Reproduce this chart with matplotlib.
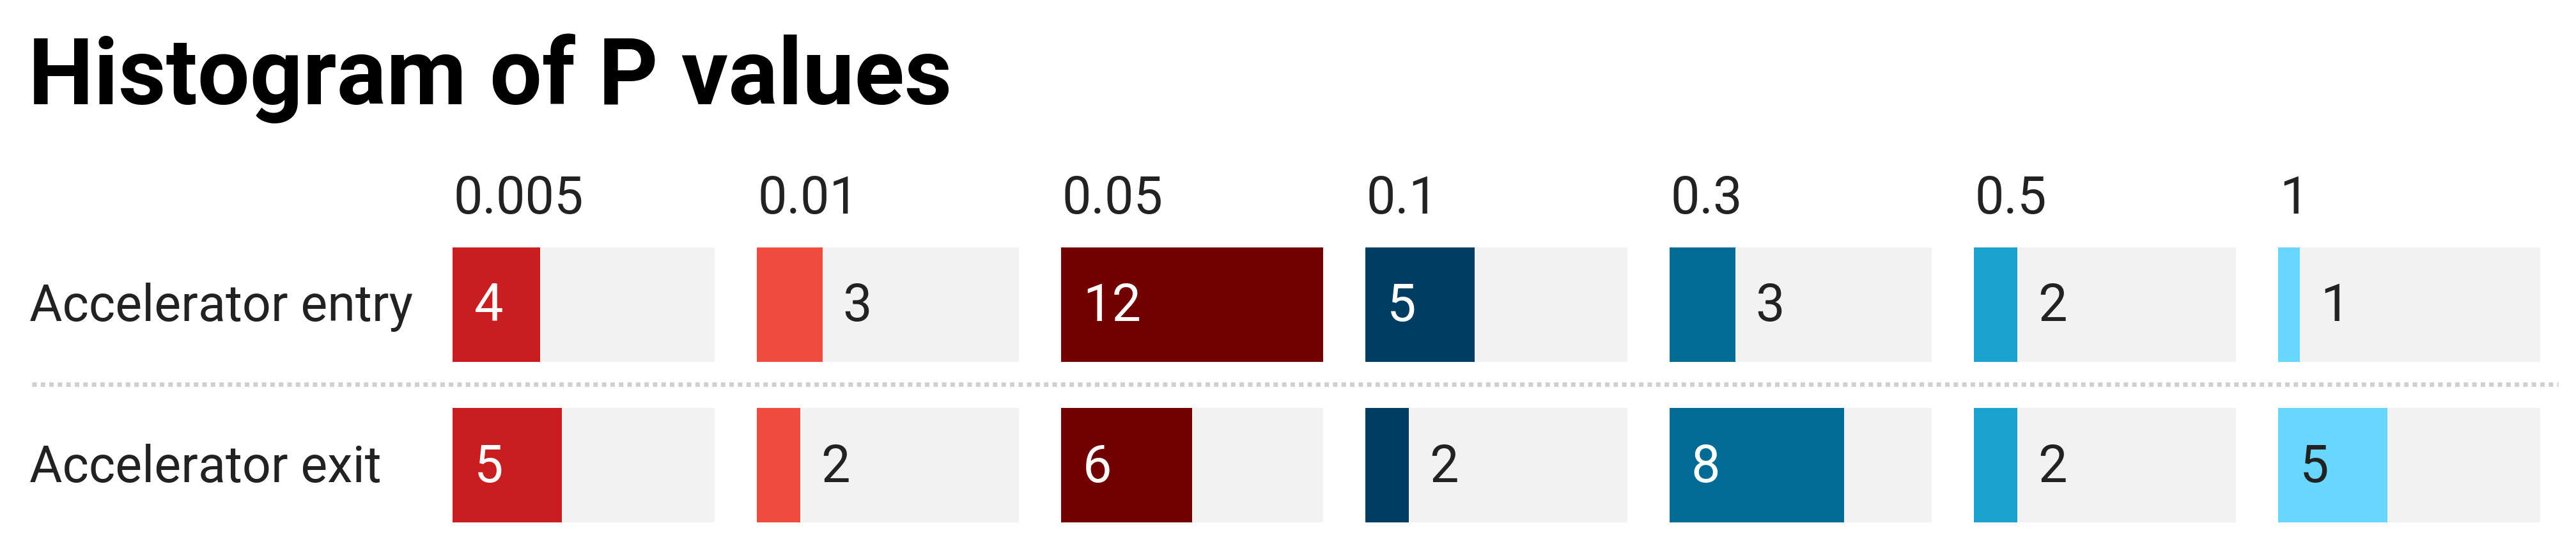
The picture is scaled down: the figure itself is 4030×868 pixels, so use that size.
import matplotlib
matplotlib.use('Agg')
import matplotlib.pyplot as plt
from matplotlib.lines import Line2D

# data
bins = ['0.005', '0.01', '0.05', '0.1', '0.3', '0.5', '1']
rows = ['Accelerator entry', 'Accelerator exit']
entry = [4, 3, 12, 5, 3, 2, 1]
exit_ = [5, 2, 6, 2, 8, 2, 5]
bin_colors = ['#c91d1f', '#ef4b3f', '#730000', '#003d63', '#006c96', '#1aa3cf', '#68d6fe']
max_val = 12

plt.rcParams['font.family'] = ['Roboto', 'DejaVu Sans']

W, H = 4030, 868
DPI = 72  # so that 1 pt == 1 px
fig = plt.figure(figsize=(W / DPI, H / DPI), dpi=DPI)
fig.patch.set_facecolor('white')

txt = '#222222'

# title
fig.text(44 / W, 1 - 163 / H, 'Histogram of P values', fontsize=145,
         fontweight='bold', color='black', ha='left', va='baseline')

# panel geometry (pixels)
left0, step, pw = 708, 476, 410
top, bottom = 387, 817
bar_h = 0.71

axes = []
for i, b in enumerate(bins):
    ax = fig.add_axes([(left0 + step * i) / W, 1 - bottom / H, pw / W, (bottom - top) / H])
    ax.set_xlim(0, max_val)
    ax.set_ylim(1 + bar_h / 2, -bar_h / 2)
    ax.axis('off')
    vals = [entry[i], exit_[i]]
    ax.barh([0, 1], [max_val, max_val], height=bar_h, color='#f2f2f2', linewidth=0)
    ax.barh([0, 1], vals, height=bar_h, color=bin_colors[i], linewidth=0)
    for r, v in enumerate(vals):
        if v >= 4:
            col = txt if bin_colors[i] == '#68d6fe' else 'white'
            ax.annotate(str(v), xy=(0, r), xytext=(34, -26), textcoords='offset points',
                        fontsize=81, color=col, ha='left', va='baseline')
        else:
            ax.annotate(str(v), xy=(v, r), xytext=(32, -26), textcoords='offset points',
                        fontsize=81, color=txt, ha='left', va='baseline')
    ax.annotate(b, xy=(0, 1), xycoords='axes fraction', xytext=(2, 53),
                textcoords='offset points', fontsize=81, color=txt, ha='left', va='baseline')
    axes.append(ax)

# row labels
for r, name in enumerate(rows):
    axes[0].annotate(name, xy=(46 / W, r), xycoords=('figure fraction', 'data'),
                     xytext=(0, -26), textcoords='offset points', fontsize=79,
                     color=txt, ha='left', va='baseline', annotation_clip=False)

# dotted separator
fig.add_artist(Line2D([50 / W, 4002 / W], [1 - 601 / H, 1 - 601 / H], transform=fig.transFigure,
                      color='#d0d0d0', linewidth=7, linestyle=(0, (1, 0.9)),
                      dash_capstyle='butt'))

fig.savefig('out.png', dpi=DPI, facecolor='white')
